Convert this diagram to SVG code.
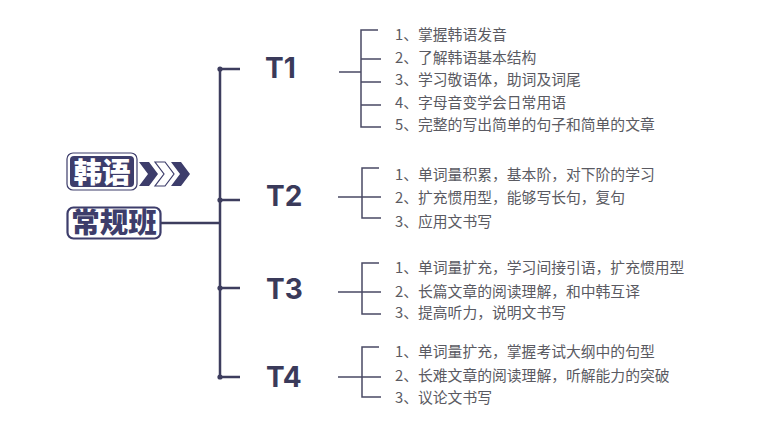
<svg xmlns="http://www.w3.org/2000/svg" width="771" height="431" viewBox="0 0 771 431">
<defs>
<style>
.trunk{stroke:#3d3d5e;stroke-width:2.5;fill:none}
.br{stroke:#4a4a64;stroke-width:1.5;fill:none}
.t{font-family:Inter,"Noto Sans","Liberation Sans",sans-serif;font-weight:700;font-size:28px;fill:#3a3a5a}
.it{font-family:"Noto Sans CJK SC","Noto Sans",sans-serif;font-size:14.8px;fill:#5a5a62}
.title{font-family:"Noto Sans CJK SC",sans-serif;font-weight:900;font-size:28.5px}
.dot{fill:#3d3d5e}
</style>
</defs>
<rect width="771" height="431" fill="#ffffff"/>

<g id="root">
  <rect x="67" y="153" width="70" height="37" rx="6" fill="none" stroke="#3d3d6b" stroke-width="1.2"/>
  <rect x="70" y="156" width="64" height="31" rx="4" fill="#3d3d6b"/>
  <text class="title" x="102" y="182.5" text-anchor="middle" fill="#ffffff">韩语</text>
  <polygon points="139,162 149,162 158,174 149,186 139,186 148,174" fill="#3d3d6b"/>
  <polygon points="155,162 165,162 174,174 165,186 155,186 164,174" fill="#ffffff" stroke="#3d3d6b" stroke-width="1.2" stroke-linejoin="miter"/>
  <polygon points="171,162 181,162 190,174 181,186 171,186 180,174" fill="#3d3d6b"/>
  <rect x="67.5" y="207.5" width="93" height="31" rx="6" fill="#ffffff" stroke="#3d3d6b" stroke-width="2.2"/>
  <text class="title" x="114" y="233" text-anchor="middle" fill="#3d3d6b">常规班</text>
</g>

<g id="connectors">
  <path class="trunk" d="M161 223 H220 M220 69 V377 M220 69 H240 M220 200 H240 M220 288 H240 M220 377 H240"/>
  <circle class="dot" cx="220" cy="69" r="2.6"/>
  <circle class="dot" cx="220" cy="200" r="2.6"/>
  <circle class="dot" cx="220" cy="288" r="2.6"/>
  <circle class="dot" cx="220" cy="377" r="2.6"/>
  <path class="br" d="M339 72 H361 M378 30 H361 V127 H381 M361 59 H381 M361 82 H381 M361 105 H381"/>
  <path class="br" d="M338 197 H381 M379 168 H362 V218 H381"/>
  <path class="br" d="M338 292 H381 M379 263 H362 V314 H381"/>
  <path class="br" d="M338 377 H381 M379 347 H362 V397 H381"/>
</g>

<g id="T1">
  <text class="t" x="265" y="78">T1</text>
  <text class="it" x="395" y="40">1、掌握韩语发音</text>
  <text class="it" x="395" y="62.5">2、了解韩语基本结构</text>
  <text class="it" x="395" y="85">3、学习敬语体，助词及词尾</text>
  <text class="it" x="395" y="107.5">4、字母音变学会日常用语</text>
  <text class="it" x="395" y="130">5、完整的写出简单的句子和简单的文章</text>
</g>

<g id="T2">
  <text class="t" x="266" y="206">T2</text>
  <text class="it" x="395" y="180">1、单词量积累，基本阶，对下阶的学习</text>
  <text class="it" x="395" y="203">2、扩充惯用型，能够写长句，复句</text>
  <text class="it" x="395" y="227">3、应用文书写</text>
</g>

<g id="T3">
  <text class="t" x="266" y="299">T3</text>
  <text class="it" x="395" y="273">1、单词量扩充，学习间接引语，扩充惯用型</text>
  <text class="it" x="395" y="297">2、长篇文章的阅读理解，和中韩互译</text>
  <text class="it" x="395" y="318">3、提高听力，说明文书写</text>
</g>

<g id="T4">
  <text class="t" x="266" y="387">T4</text>
  <text class="it" x="395" y="357">1、单词量扩充，掌握考试大纲中的句型</text>
  <text class="it" x="395" y="381">2、长难文章的阅读理解，听解能力的突破</text>
  <text class="it" x="395" y="403">3、议论文书写</text>
</g>
</svg>
